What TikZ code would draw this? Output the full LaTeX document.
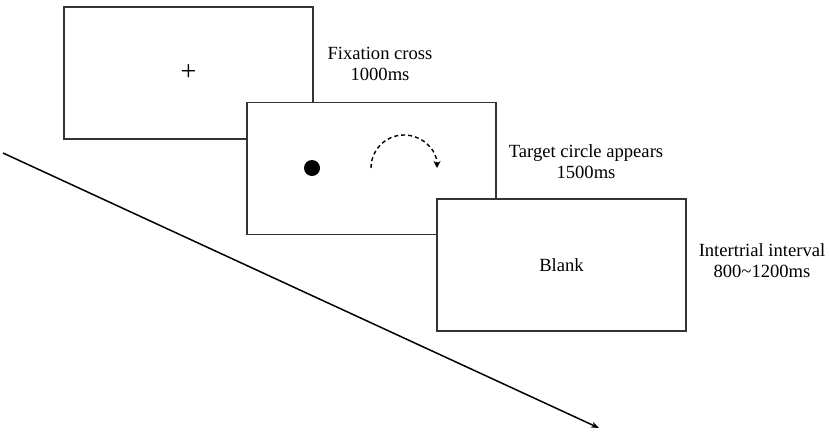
\documentclass[tikz,border=0pt]{standalone}
\usepackage{fontspec}
\setmainfont{Liberation Serif}
\usetikzlibrary{arrows.meta}
\begin{document}
\begin{tikzpicture}[x=1pt,y=-1pt,
  screen/.style={draw=black!80,line width=1.1pt,fill=white,rectangle,inner sep=0pt,minimum width=249pt,minimum height=132pt},
  lbl/.style={align=center,font=\fontsize{18.6}{21}\selectfont,inner sep=0pt},
  boxtext/.style={font=\fontsize{18.6}{21}\selectfont,inner sep=0pt}]
\useasboundingbox (0,0) rectangle (829,434);
% time line
\coordinate (tstart) at (3,153);
\coordinate (tend) at (599,428);
\draw[line width=1.5pt,-{Stealth[length=8pt,width=6pt]}] (tstart) -- (tend);
% screens
\node[screen] (s1) at (188.5,73) {};
\node[font=\fontsize{28}{28}\selectfont,inner sep=0pt] (plus) at (188.5,73) {+};
\node[screen] (s2) at (371.5,168.5) {};
\fill (312,168) circle (8);
\draw[line width=1.4pt,dash pattern=on 4pt off 3pt,-{Stealth[length=7pt,width=7pt]}] (371,168) arc[start angle=180,end angle=360,radius=33];
\node[screen] (s3) at (561.5,265) {};
\node[boxtext] (blank) at (s3) {Blank};
% labels
\node[lbl] (l1) at (380,64) {Fixation cross\\1000ms};
\node[lbl] (l2) at (586,162) {Target circle appears\\1500ms};
\node[lbl] (l3) at (762,261) {Intertrial interval\\800\textasciitilde1200ms};
\end{tikzpicture}
\end{document}
